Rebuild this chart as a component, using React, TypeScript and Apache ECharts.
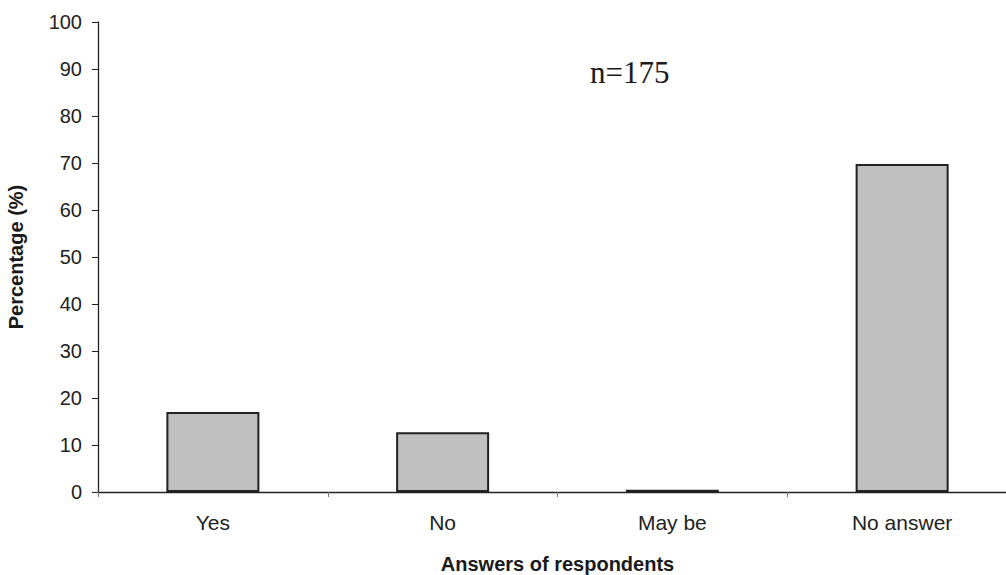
import React, { useEffect, useRef } from "react";
import * as echarts from "echarts";

const categories = ["Yes", "No", "May be", "No answer"];
const percentages = [17, 12.7, 0.5, 69.8];
const yTicks = { min: 0, max: 100, interval: 10 };
const sampleNote = "n=175";

export default function App() {
  const ref = useRef<HTMLDivElement>(null);
  useEffect(() => {
    if (!ref.current) return;
    const chart = echarts.init(ref.current, undefined, { renderer: "svg" });
    const sans = "'Liberation Sans', Arial, sans-serif";
    chart.setOption({
      animation: false,
      backgroundColor: "#ffffff",
      grid: { left: 98, top: 22, bottom: 83, right: -11, outerBoundsMode: "none", containLabel: false },
      xAxis: {
        type: "category",
        data: categories,
        boundaryGap: true,
        name: "Answers of respondents",
        nameLocation: "middle",
        nameGap: 62,
        nameTextStyle: { fontFamily: sans, fontWeight: "bold", fontSize: 20, color: "#1a1a1a" },
        axisLine: { lineStyle: { color: "#222", width: 1.3 } },
        axisTick: { show: true, length: 5, alignWithLabel: false, lineStyle: { color: "#777", width: 1 } },
        axisLabel: { fontFamily: sans, fontSize: 21, color: "#222", margin: 20 },
        splitLine: { show: false },
      },
      yAxis: {
        type: "value",
        min: yTicks.min,
        max: yTicks.max,
        interval: yTicks.interval,
        name: "Percentage (%)",
        nameLocation: "middle",
        nameGap: 72,
        nameTextStyle: { fontFamily: sans, fontWeight: "bold", fontSize: 20, color: "#1a1a1a" },
        axisLine: { show: true, lineStyle: { color: "#222", width: 1.3 } },
        axisTick: { show: true, length: 6, inside: false, lineStyle: { color: "#222", width: 1 } },
        axisLabel: { fontFamily: sans, fontSize: 20, color: "#222", margin: 16 },
        splitLine: { show: false },
      },
      series: [
        {
          type: "bar",
          data: percentages,
          barWidth: 93,
          itemStyle: { color: "#c0c0c0", borderColor: "#222", borderWidth: 2 },
        },
      ],
      graphic: [
        {
          type: "text",
          left: 590,
          top: 57,
          style: {
            text: sampleNote,
            fontFamily: "'Liberation Serif', 'Times New Roman', serif",
            fontSize: 31,
            fill: "#1a1a1a",
          },
        },
      ],
    });
    return () => chart.dispose();
  }, []);
  return (
    <div
      ref={ref}
      style={{ position: "fixed", left: 0, top: 0, width: 1006, height: 575 }}
    />
  );
}
